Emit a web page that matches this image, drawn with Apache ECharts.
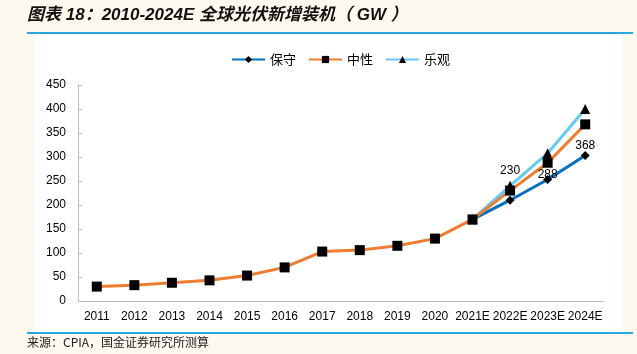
<!DOCTYPE html>
<html><head><meta charset="utf-8">
<script src="https://cdn.jsdelivr.net/npm/echarts@6/dist/echarts.min.js"></script>
<style>html,body{margin:0;padding:0;background:#FEF9EE;}#c{width:637px;height:354px;}</style>
</head><body><div id="c"></div>
<script>
var categories = ['2011','2012','2013','2014','2015','2016','2017','2018','2019','2020','2021E','2022E','2023E','2024E'];
var conservative = [null,null,null,null,null,null,null,null,null,null,170,210,253,303];
var neutral = [30,33,38,43,53,70,103,106,115,130,170,230,288,368];
var optimistic = [null,null,null,null,null,null,null,null,null,null,170,240,308,400];
var yTicks = [0,50,100,150,200,250,300,350,400,450];

var FONT = 'Liberation Sans, Noto Sans CJK SC, sans-serif';
var labelCfg = {11:{position:'top',distance:9},12:{position:'bottom',distance:1},13:{position:'bottom',distance:10}};
var neutralData = neutral.map(function(v,i){
  var d = {value:v};
  if (labelCfg[i]) d.label = {show:true, position:labelCfg[i].position, distance:labelCfg[i].distance, color:'#000', fontSize:12, fontFamily:FONT};
  return d;
});

var chart = echarts.init(document.getElementById('c'), null, {renderer:'canvas'});
chart.setOption({
  animation:false,
  backgroundColor:'#FEF9EE',
  graphic:[
    {type:'rect', z:-10, shape:{x:35,y:34,width:587,height:299}, style:{fill:'#ffffff'}},
    {type:'line', z:5, shape:{x1:27,y1:33,x2:633,y2:33}, style:{stroke:'#29A8E0',lineWidth:2}},
    {type:'line', z:5, shape:{x1:27,y1:333,x2:633,y2:333}, style:{stroke:'#29A8E0',lineWidth:2}},
    {type:'text', z:5, left:27, top:7, style:{text:'图表 18：2010-2024E 全球光伏新增装机（ GW ）', fill:'#111', font:'italic bold 17px "Liberation Sans","Noto Sans CJK SC",sans-serif'}},
    {type:'text', z:5, left:27, top:336, style:{text:'来源：CPIA，国金证券研究所测算', fill:'#222', font:'12px "Noto Sans CJK SC",sans-serif'}}
  ],
  legend:{
    top:48, left:226, itemWidth:33, itemHeight:9, itemGap:12,
    textStyle:{fontSize:13, color:'#000', fontFamily:'Noto Sans CJK SC, sans-serif'},
    data:['保守','中性','乐观']
  },
  grid:{left:78, right:33, top:85, bottom:53},
  xAxis:{
    type:'category', data:categories, boundaryGap:true,
    axisLine:{lineStyle:{color:'#BFBFBF'}},
    axisTick:{inside:true, length:4, lineStyle:{color:'#BFBFBF'}},
    axisLabel:{color:'#000', fontSize:12, fontFamily:FONT, margin:10, interval:0}
  },
  yAxis:{
    type:'value', min:yTicks[0], max:yTicks[yTicks.length-1], interval:yTicks[1]-yTicks[0],
    axisLine:{show:true, lineStyle:{color:'#BFBFBF'}},
    axisTick:{show:true, inside:true, length:4, lineStyle:{color:'#BFBFBF'}},
    splitLine:{show:false},
    axisLabel:{color:'#000', fontSize:12, fontFamily:FONT, margin:12}
  },
  series:[
    {name:'保守', type:'line', data:conservative, z:3, color:'#0070C0',
     lineStyle:{width:3, color:'#0070C0'}, symbol:'diamond', symbolSize:9,
     itemStyle:{color:'#000', borderWidth:0}},
    {name:'中性', type:'line', data:neutralData, z:5, color:'#ED7D31',
     lineStyle:{width:3, color:'#ED7D31'}, symbol:'rect', symbolSize:10,
     itemStyle:{color:'#000', borderWidth:0}},
    {name:'乐观', type:'line', data:optimistic, z:4, color:'#66C9F4',
     lineStyle:{width:3, color:'#66C9F4'}, symbol:'triangle', symbolSize:10,
     itemStyle:{color:'#000', borderWidth:0}}
  ]
});
</script></body></html>
